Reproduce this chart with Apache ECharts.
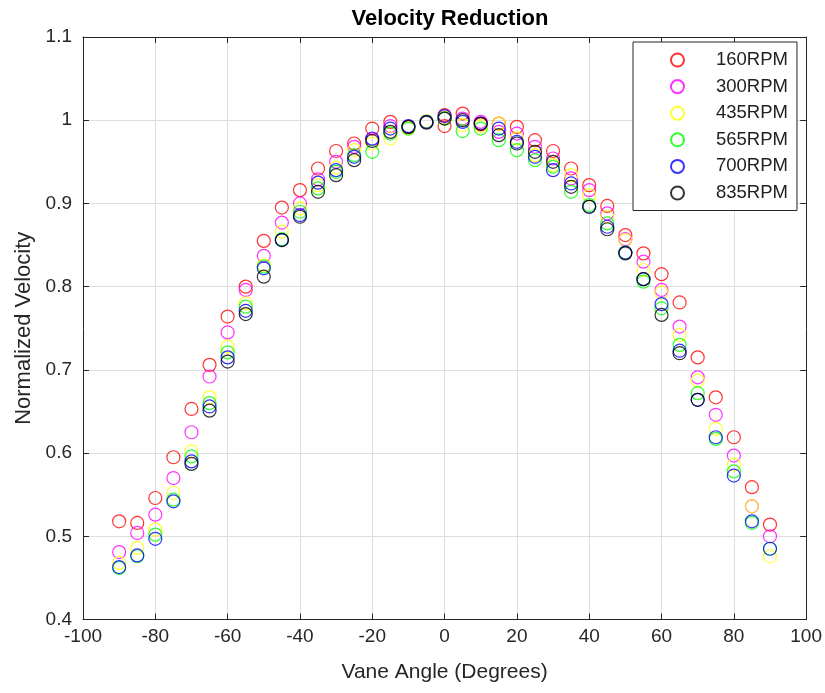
<!DOCTYPE html>
<html>
<head>
<meta charset="utf-8">
<script src="https://cdn.jsdelivr.net/npm/echarts@6/dist/echarts.min.js"></script>
<style>
  html, body { margin: 0; padding: 0; background: #fff; }
  #chart { width: 825px; height: 693px; }
</style>
</head>
<body>
<div id="chart"></div>
<script>
// vane angles (degrees)
const angles = [-90, -85, -80, -75, -70, -65, -60, -55, -50, -45, -40, -35, -30, -25, -20, -15, -10, -5, 0,
  5, 10, 15, 20, 25, 30, 35, 40, 45, 50, 55, 60, 65, 70, 75, 80, 85, 90];

// normalized velocity per speed (null = no reading)
const rpm160 = [0.518, 0.516, 0.546, 0.595, 0.653, 0.706, 0.764, 0.800, 0.855, 0.895, 0.916, 0.942, 0.963, 0.972, 0.990, 0.998, 0.992, 0.998, 0.993,
  1.008, 0.995, 0.996, 0.992, 0.976, 0.963, 0.942, 0.922, 0.897, 0.862, 0.840, 0.815, 0.781, 0.715, 0.667, 0.619, 0.559, 0.514];
const rpm160Extra = [[0, 1.006]];
const rpm300 = [0.481, 0.504, 0.526, 0.570, 0.625, 0.692, 0.745, 0.796, 0.837, 0.877, 0.900, 0.929, 0.950, 0.968, 0.977, 0.993, 0.992, 0.998, 1.003,
  1.002, 0.998, 0.986, 0.984, 0.968, 0.954, 0.930, 0.916, 0.888, 0.857, 0.830, 0.796, 0.752, 0.691, 0.646, 0.597, 0.536, 0.500];
const rpm435 = [0.468, 0.486, 0.508, 0.552, 0.602, 0.667, 0.728, 0.780, 0.826, 0.866, 0.894, 0.922, 0.943, 0.964, 0.972, 0.978, 0.990, 0.999, 1.003,
  0.994, 0.993, 0.996, 0.978, 0.958, 0.946, 0.934, 0.910, 0.884, 0.856, 0.820, 0.793, 0.742, 0.687, 0.629, 0.586, 0.536, 0.476];
const rpm565 = [0.462, 0.476, 0.502, 0.544, 0.596, 0.660, 0.721, 0.776, 0.824, 0.857, 0.890, 0.918, 0.938, 0.958, 0.962, 0.984, 0.990, 0.998, 1.002,
  0.987, 0.990, 0.976, 0.964, 0.952, 0.944, 0.914, 0.898, 0.876, 0.841, 0.806, 0.774, 0.730, 0.672, 0.617, 0.578, 0.516, 0.485];
const rpm700 = [0.463, 0.477, 0.497, 0.542, 0.590, 0.656, 0.715, 0.771, 0.822, 0.856, 0.886, 0.925, 0.940, 0.956, 0.978, 0.990, 0.993, 0.998, 1.005,
  0.998, 0.996, 0.990, 0.974, 0.956, 0.940, 0.924, 0.896, 0.872, 0.841, 0.809, 0.779, 0.723, 0.664, 0.619, 0.573, 0.518, 0.485];
const rpm835 = [null, null, null, null, 0.587, 0.651, 0.710, 0.767, 0.812, 0.856, 0.884, 0.914, 0.934, 0.952, 0.975, 0.986, 0.992, 0.997, 1.002,
  1.000, 0.996, 0.982, 0.972, 0.962, 0.950, 0.920, 0.896, 0.869, 0.840, 0.809, 0.766, 0.720, 0.664, null, null, null, null];

const seriesNames = ['160RPM', '300RPM', '435RPM', '565RPM', '700RPM', '835RPM'];
const seriesColors = ['#ff0000', '#ff00ff', '#ffff00', '#00ff00', '#0000ff', '#000000'];

const chart = echarts.init(document.getElementById('chart'));

const font = 'Liberation Sans, Arial, Helvetica, sans-serif';
const axisColor = '#262626';

function pairs(vals) {
  return angles.map((a, i) => [a, vals[i]]).filter(p => p[1] !== null);
}

const allData = [
  pairs(rpm160).concat(rpm160Extra),
  pairs(rpm300),
  pairs(rpm435),
  pairs(rpm565),
  pairs(rpm700),
  pairs(rpm835)
];

const option = {
  animation: false,
  backgroundColor: '#fff',
  title: {
    text: 'Velocity Reduction',
    left: 445,
    top: 3,
    textAlign: 'center',
    textStyle: { fontFamily: font, fontSize: 22, fontWeight: 'bold', color: '#000' }
  },
  grid: { left: 83, right: 18, top: 37, bottom: 73.5 },
  legend: {
    orient: 'vertical',
    left: 633,
    top: 42,
    backgroundColor: '#fff',
    borderColor: axisColor,
    borderWidth: 1,
    padding: [8.5, 9, 8, 37],
    itemWidth: 13,
    itemHeight: 13,
    itemGap: 7.6,
    textStyle: {
      fontFamily: font,
      fontSize: 18.5,
      color: '#222',
      padding: [0, 0, 0, 27]
    },
    data: seriesNames
  },
  xAxis: [{
    type: 'value',
    min: -100,
    max: 100,
    interval: 20,
    name: 'Vane Angle (Degrees)',
    nameLocation: 'middle',
    nameGap: 42,
    nameTextStyle: { fontFamily: font, fontSize: 21, color: axisColor },
    axisLine: { onZero: false, lineStyle: { color: axisColor } },
    axisTick: { inside: true, length: 6, lineStyle: { color: axisColor } },
    axisLabel: { fontFamily: font, fontSize: 19, color: axisColor, margin: 8 },
    splitLine: { show: true, lineStyle: { color: '#dedede' } }
  }, {
    type: 'value',
    position: 'top',
    min: -100,
    max: 100,
    interval: 20,
    axisLine: { onZero: false, lineStyle: { color: axisColor } },
    axisTick: { inside: true, length: 6, lineStyle: { color: axisColor } },
    axisLabel: { show: false },
    splitLine: { show: false }
  }],
  yAxis: [{
    type: 'value',
    min: 0.4,
    max: 1.1,
    interval: 0.1,
    name: 'Normalized Velocity',
    nameLocation: 'middle',
    nameGap: 47,
    nameTextStyle: { fontFamily: font, fontSize: 22, color: axisColor },
    axisLine: { show: true, onZero: false, lineStyle: { color: axisColor } },
    axisTick: { show: true, inside: true, length: 6, lineStyle: { color: axisColor } },
    axisLabel: { fontFamily: font, fontSize: 19, color: axisColor, margin: 11 },
    splitLine: { show: true, lineStyle: { color: '#dedede' } }
  }, {
    type: 'value',
    position: 'right',
    min: 0.4,
    max: 1.1,
    interval: 0.1,
    axisLine: { show: true, onZero: false, lineStyle: { color: axisColor } },
    axisTick: { show: true, inside: true, length: 6, lineStyle: { color: axisColor } },
    axisLabel: { show: false },
    splitLine: { show: false }
  }],
  series: seriesNames.map((name, k) => ({
    name: name,
    type: 'scatter',
    xAxisIndex: 0,
    yAxisIndex: 0,
    symbol: 'circle',
    symbolSize: 13,
    itemStyle: {
      color: 'rgba(0,0,0,0)',
      borderColor: seriesColors[k],
      borderWidth: 1.2
    },
    emphasis: { disabled: true },
    data: allData[k]
  }))
};

chart.setOption(option);
</script>
</body>
</html>
